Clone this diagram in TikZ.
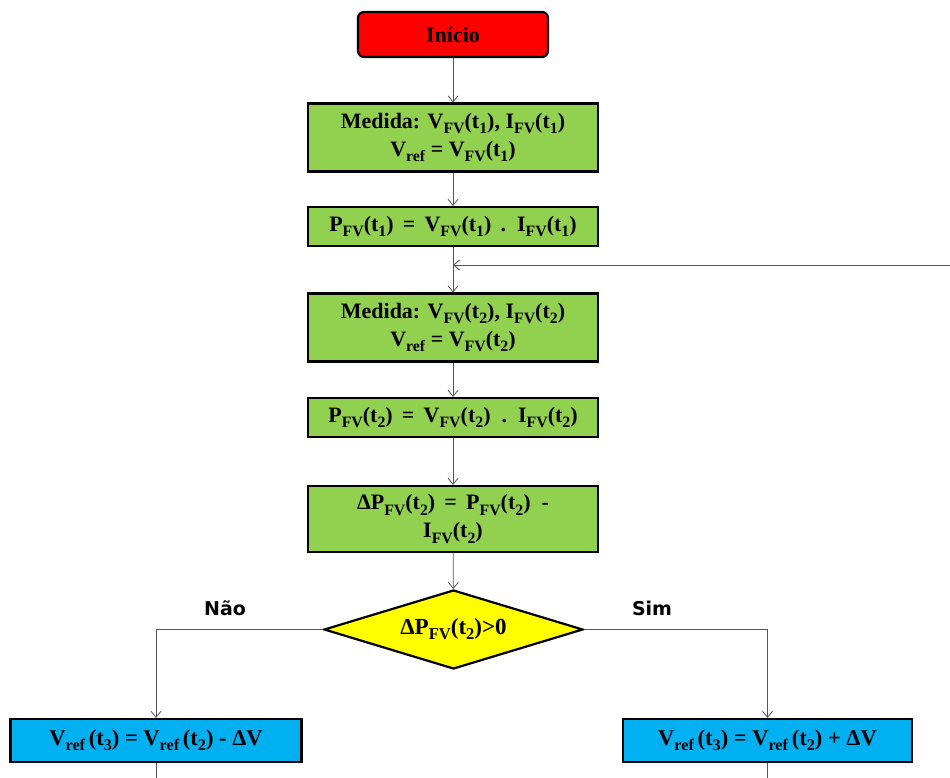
\documentclass[tikz,border=0pt]{standalone}
\usepackage{fontspec}
\setmainfont{Liberation Serif}
\newfontfamily\labelfont{DejaVu Sans}
\usetikzlibrary{shapes.geometric,arrows.meta}
\definecolor{boxgreen}{HTML}{92D050}
\definecolor{boxred}{HTML}{FF0000}
\definecolor{boxyellow}{HTML}{FFFF00}
\definecolor{boxblue}{HTML}{00B0F0}
\definecolor{wire}{HTML}{555555}
% lowered subscript in text
\newcommand\lo[1]{\raisebox{-0.5ex}{\scalebox{0.72}{#1}}}
\tikzset{
  base/.style={draw=black,line width=2.2pt,font=\bfseries\fontsize{22}{28}\selectfont,align=center,inner sep=0pt},
  startbox/.style={base,fill=boxred,rounded corners=6pt,minimum width=190pt,minimum height=45pt},
  procbox/.style={base,fill=boxgreen,minimum width=290pt},
  tallbox/.style={procbox,minimum height=68pt},
  shortbox/.style={procbox,minimum height=39pt},
  decbox/.style={base,diamond,aspect=3.3,fill=boxyellow,minimum width=259pt,minimum height=79pt,font=\bfseries\fontsize{23}{24}\selectfont},
  outbox/.style={base,fill=boxblue,minimum width=291pt,minimum height=43pt,font=\bfseries\fontsize{22.5}{24}\selectfont},
  arr/.style={draw=wire,line width=0.8pt,-{Straight Barb[length=6pt,width=10pt]}},
  wireline/.style={draw=wire,line width=0.8pt},
  branch/.style={font=\labelfont\bfseries\fontsize{19}{22}\selectfont}
}
\begin{document}
\begin{tikzpicture}[x=1pt,y=-1pt]
\useasboundingbox (0,0) rectangle (950,778);

\node[startbox] (ini) at (453,34.5) {Início};
\node[tallbox] (m1) at (453,137.5) {Medida: V\lo{FV}(t\lo{1}), I\lo{FV}(t\lo{1})\\V\lo{ref} = V\lo{FV}(t\lo{1})};
\node[shortbox] (p1) at (453,226.5) {P\lo{FV}(t\lo{1}) \,=\, V\lo{FV}(t\lo{1}) \,. \,I\lo{FV}(t\lo{1})};
\node[tallbox] (m2) at (453,327.5) {Medida: V\lo{FV}(t\lo{2}), I\lo{FV}(t\lo{2})\\V\lo{ref} = V\lo{FV}(t\lo{2})};
\node[shortbox] (p2) at (453,417.5) {P\lo{FV}(t\lo{2}) \,=\, V\lo{FV}(t\lo{2}) \ . \,I\lo{FV}(t\lo{2})};
\node[tallbox,minimum height=66pt] (dp) at (453,519) {ΔP\lo{FV}(t\lo{2}) \,=\, P\lo{FV}(t\lo{2}) \ -\\I\lo{FV}(t\lo{2})};
\node[decbox] (dec) at (453.5,629.5) {ΔP\lo{FV}(t\lo{2})>0};
\node[outbox] (dec1) at (156,740.5) {V\lo{ref}\,(t\lo{3}) = V\lo{ref}\,(t\lo{2}) - ΔV};
\node[outbox,minimum width=289pt] (inc1) at (767.5,740.5) {V\lo{ref}\,(t\lo{3}) = V\lo{ref}\,(t\lo{2}) + ΔV};

\node[branch] (nao) at (225,608) {Não};
\node[branch] (sim) at (652,608) {Sim};

\coordinate (loopin) at (950,265);
\coordinate (decout) at (154,778);
\coordinate (incout) at (767.5,778);

\draw[arr] (ini) -- (m1);
\draw[arr] (m1) -- (p1);
\draw[arr] (p1) -- (m2);
\draw[arr] (loopin) -- (p1.south |- loopin);
\draw[arr] (m2) -- (p2);
\draw[arr] (p2) -- (dp);
\draw[arr] (dp) -- (dec);
\draw[arr] (dec.west) -| (dec1.north);
\draw[arr] (dec.east) -| (inc1.north);
\draw[wireline] (dec1.south) -- (dec1.south |- decout);
\draw[wireline] (inc1.south) -- (incout);
\end{tikzpicture}
\end{document}
